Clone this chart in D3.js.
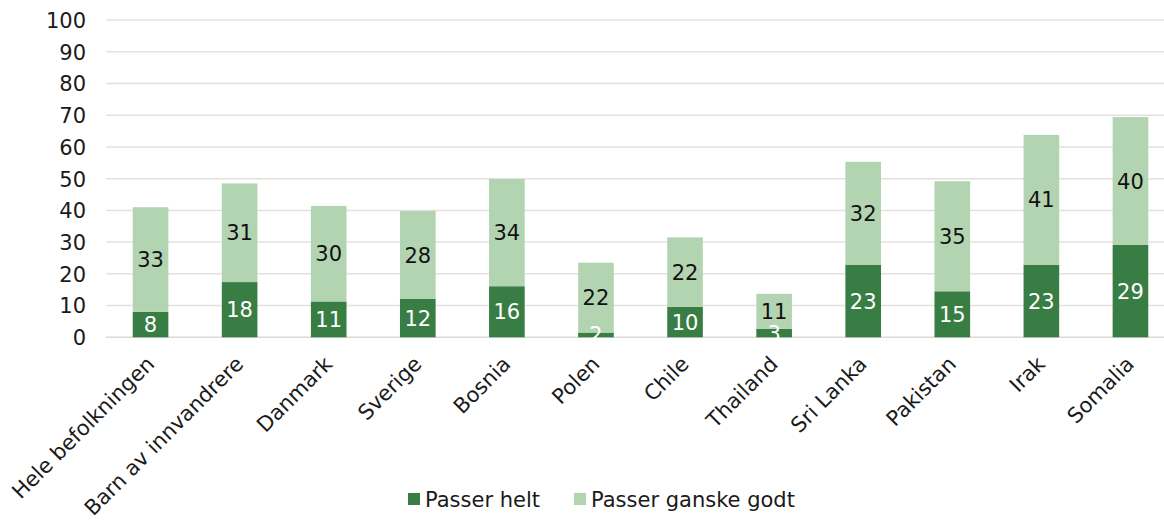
<!DOCTYPE html>
<html>
<head>
<meta charset="utf-8">
<script src="https://cdn.jsdelivr.net/npm/d3@7"></script>
<style>
  html, body { margin: 0; padding: 0; background: #ffffff; }
  svg { display: block; }
  text { font-family: Verdana, "DejaVu Sans", sans-serif; }
</style>
</head>
<body>
<script>
const categories = ["Hele befolkningen", "Barn av innvandrere", "Danmark", "Sverige", "Bosnia", "Polen", "Chile", "Thailand", "Sri Lanka", "Pakistan", "Irak", "Somalia"];
// bar heights
const passerHelt = [8.0, 17.4, 11.3, 12.1, 16.1, 1.5, 9.6, 2.7, 22.9, 14.5, 22.9, 29.1];
const passerGanskeGodt = [33.0, 31.1, 30.1, 27.7, 33.8, 22.0, 21.9, 11.0, 32.4, 34.7, 40.9, 40.3];
// data labels as printed
const labelsHelt = [8, 18, 11, 12, 16, 2, 10, 3, 23, 15, 23, 29];
const labelsGanskeGodt = [33, 31, 30, 28, 34, 22, 22, 11, 32, 35, 41, 40];
const seriesNames = ["Passer helt", "Passer ganske godt"];
const yTicks = [0, 10, 20, 30, 40, 50, 60, 70, 80, 90, 100];

const W = 1164, H = 520;
const colors = ["#387d44", "#b3d4b1"];
const fontSize = 21;

const svg = d3.select("body").append("svg").attr("width", W).attr("height", H);

const x = d3.scaleBand().domain(categories).range([106, 1175]).paddingInner(0.6).paddingOuter(0.3);
const y = d3.scaleLinear().domain([0, 100]).range([337.3, 20]);

// gridlines
svg.append("g").selectAll("line").data(yTicks).join("line")
  .attr("x1", 106).attr("x2", 1175)
  .attr("y1", d => y(d)).attr("y2", d => y(d))
  .attr("stroke", d => d === 0 ? "#d9d9d9" : "#e4e1dd")
  .attr("stroke-width", 1.5);

// y axis labels
const yAxis = d3.axisLeft(y).tickValues(yTicks).tickSize(0).tickPadding(0);
const gy = svg.append("g").attr("transform", "translate(86,0)").call(yAxis);
gy.select(".domain").remove();
gy.selectAll("text").attr("font-size", fontSize).attr("fill", "#1a1a1a")
  .style("font-family", 'Verdana, "DejaVu Sans", sans-serif').attr("dy", "0.35em");

// stacked data
const rows = categories.map((c, i) => ({ cat: c, helt: passerHelt[i], godt: passerGanskeGodt[i], i: i }));
const stack = d3.stack().keys(["helt", "godt"]);
const stacked = stack(rows);
const labelSets = [labelsHelt, labelsGanskeGodt];

svg.append("defs").append("clipPath").attr("id", "plotclip")
  .append("rect").attr("x", 100).attr("y", 0).attr("width", 1080).attr("height", 339);

const gBars = svg.append("g");
stacked.forEach((layer, li) => {
  gBars.append("g").selectAll("rect").data(layer).join("rect")
    .attr("x", d => x(d.data.cat))
    .attr("width", x.bandwidth())
    .attr("y", d => y(d[1]))
    .attr("height", d => y(d[0]) - y(d[1]))
    .attr("fill", colors[li]);
});

const gLabels = svg.append("g").attr("clip-path", "url(#plotclip)");
stacked.forEach((layer, li) => {
  gLabels.append("g").selectAll("text").data(layer).join("text")
    .attr("x", d => x(d.data.cat) + x.bandwidth() / 2)
    .attr("y", d => (y(d[0]) + y(d[1])) / 2)
    .attr("dy", "0.36em")
    .attr("text-anchor", "middle")
    .attr("font-size", fontSize)
    .attr("fill", li === 0 ? "#ffffff" : "#111111")
    .text(d => labelSets[li][d.data.i]);
});

// x axis labels rotated
const xAxis = d3.axisBottom(x).tickSize(0).tickPadding(0);
const gx = svg.append("g").attr("transform", "translate(0,337.3)").call(xAxis);
gx.select(".domain").remove();
gx.selectAll(".tick text")
  .attr("font-size", fontSize).attr("fill", "#1a1a1a")
  .style("font-family", 'Verdana, "DejaVu Sans", sans-serif')
  .attr("text-anchor", "end")
  .attr("dy", null).attr("y", 0)
  .attr("transform", "translate(5,28) rotate(-45)");

// legend
const legend = svg.append("g");
const legendX = [408, 574];
seriesNames.forEach((name, i) => {
  legend.append("rect").attr("x", legendX[i]).attr("y", 493).attr("width", 12).attr("height", 12).attr("fill", colors[i]);
  legend.append("text").attr("x", legendX[i] + 17).attr("y", 507)
    .attr("font-size", fontSize).attr("fill", "#1a1a1a").text(name);
});
</script>
</body>
</html>
